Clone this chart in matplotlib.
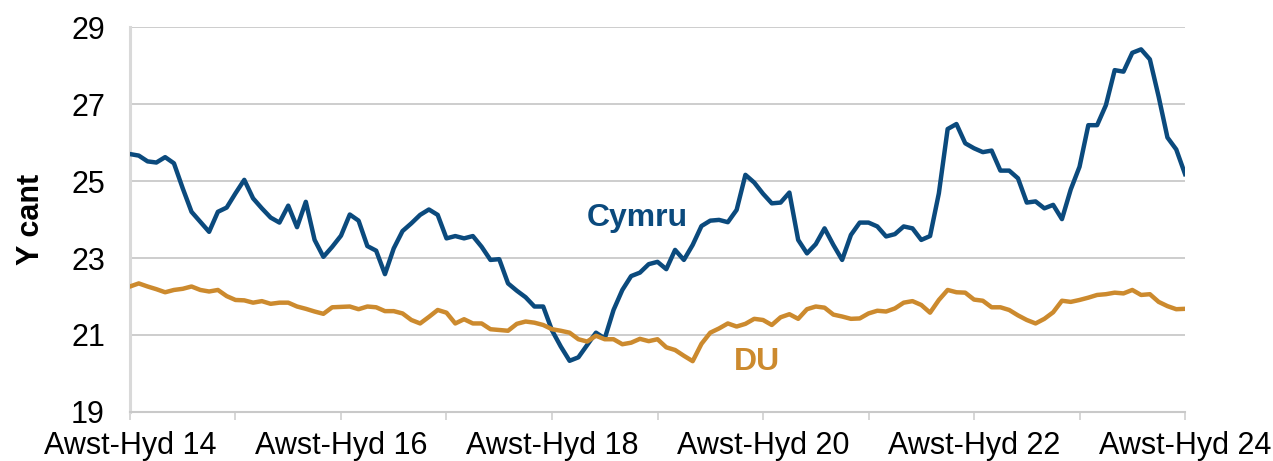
import numpy as np
import matplotlib
matplotlib.use("Agg")
import matplotlib.pyplot as plt

# ========== DATA ==========
# rolling 3-month periods, Awst-Hyd 14 ... Awst-Hyd 24 (121 points)
cymru = [
    25.70, 25.66, 25.51, 25.48, 25.62, 25.46, 24.81, 24.20, 23.94, 23.68,
    24.20, 24.31, 24.68, 25.03, 24.55, 24.29, 24.05, 23.92, 24.36, 23.80,
    24.46, 23.47, 23.03, 23.29, 23.58, 24.13, 23.97, 23.31, 23.19, 22.58,
    23.25, 23.70, 23.90, 24.12, 24.26, 24.12, 23.51, 23.57, 23.51, 23.57,
    23.29, 22.95, 22.97, 22.34, 22.15, 21.98, 21.74, 21.74, 21.12, 20.70,
    20.33, 20.42, 20.74, 21.06, 20.91, 21.65, 22.17, 22.53, 22.62, 22.84,
    22.90, 22.71, 23.21, 22.95, 23.34, 23.83, 23.97, 23.99, 23.93, 24.25,
    25.16, 24.96, 24.67, 24.42, 24.44, 24.70, 23.47, 23.12, 23.36, 23.77,
    23.34, 22.95, 23.60, 23.92, 23.92, 23.82, 23.56, 23.62, 23.82, 23.77,
    23.47, 23.57, 24.68, 26.35, 26.48, 25.98, 25.85, 25.75, 25.79, 25.27,
    25.27, 25.07, 24.44, 24.47, 24.29, 24.38, 24.01, 24.78, 25.37, 26.45,
    26.45, 26.97, 27.88, 27.84, 28.33, 28.42, 28.16, 27.19, 26.13, 25.82,
    25.18,
]
du = [
    22.26, 22.34, 22.26, 22.19, 22.11, 22.17, 22.20, 22.26, 22.17, 22.13,
    22.17, 22.01, 21.91, 21.90, 21.84, 21.88, 21.81, 21.84, 21.84, 21.74,
    21.68, 21.61, 21.55, 21.72, 21.73, 21.74, 21.67, 21.74, 21.72, 21.62,
    21.62, 21.56, 21.39, 21.30, 21.47, 21.65, 21.58, 21.30, 21.41, 21.30,
    21.30, 21.15, 21.13, 21.11, 21.29, 21.35, 21.32, 21.26, 21.15, 21.11,
    21.06, 20.89, 20.83, 20.98, 20.89, 20.89, 20.76, 20.80, 20.90, 20.84,
    20.89, 20.68, 20.61, 20.46, 20.32, 20.77, 21.06, 21.17, 21.30, 21.22,
    21.29, 21.42, 21.39, 21.26, 21.46, 21.54, 21.42, 21.67, 21.74, 21.71,
    21.53, 21.48, 21.42, 21.43, 21.56, 21.63, 21.61, 21.69, 21.84, 21.88,
    21.78, 21.58, 21.91, 22.17, 22.11, 22.10, 21.92, 21.89, 21.72, 21.72,
    21.65, 21.51, 21.39, 21.30, 21.42, 21.59, 21.89, 21.86, 21.91, 21.97,
    22.04, 22.06, 22.10, 22.08, 22.17, 22.04, 22.06, 21.86, 21.75, 21.67,
    21.68,
]
tick_labels = ["Awst-Hyd 14", "", "Awst-Hyd 16", "", "Awst-Hyd 18", "",
               "Awst-Hyd 20", "", "Awst-Hyd 22", "", "Awst-Hyd 24"]
y_ticks = [19, 21, 23, 25, 27, 29]
# ==========================

BLUE = "#0B4A7D"
ORANGE = "#CC8A2E"
GRID = "#C9C9C9"

plt.rcParams["font.family"] = ["Liberation Sans", "DejaVu Sans"]

fig = plt.figure(figsize=(12.73, 4.61), dpi=100)
ax = fig.add_axes([0.1021, 0.1063, 0.8288, 0.8351])

x = np.arange(len(cymru))
ax.plot(x, cymru, color=BLUE, lw=3.2, solid_joinstyle="round", zorder=3)
ax.plot(x, du, color=ORANGE, lw=3.2, solid_joinstyle="round", zorder=3)

ax.set_xlim(0, len(cymru) - 1)
ax.set_ylim(19, 29)
ax.set_yticks(y_ticks)
ax.set_xticks(np.arange(0, len(cymru), 12))
ax.set_xticklabels(tick_labels)

ax.grid(axis="y", color=GRID, lw=1.3)
ax.set_axisbelow(True)
for s in ["top", "right"]:
    ax.spines[s].set_visible(False)
ax.spines["left"].set_color("#D9D9D9")
ax.spines["left"].set_linewidth(2.2)
ax.spines["bottom"].set_color(GRID)
ax.spines["bottom"].set_linewidth(1.5)

ax.tick_params(axis="y", length=0, pad=18, labelsize=22)
ax.tick_params(axis="x", length=6, width=1.2, color="#D0D0D0", pad=8,
               labelsize=22)

ax.set_ylabel("Y cant", fontsize=22, fontweight="bold", labelpad=18)

ax.text(57.7, 24.04, "Cymru", color=BLUE, fontsize=23, fontweight="bold",
        ha="center", va="center")
ax.text(71.3, 20.3, "DU", color=ORANGE, fontsize=23, fontweight="bold",
        ha="center", va="center")

fig.savefig("out.png", dpi=100)
